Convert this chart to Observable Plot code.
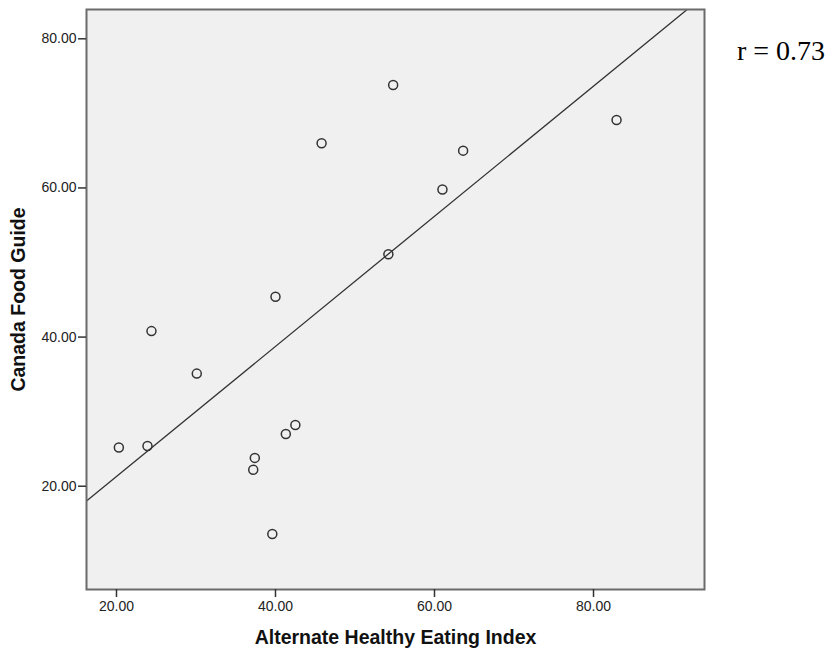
<!DOCTYPE html>
<html>
<head>
<meta charset="utf-8">
<script src="https://cdn.jsdelivr.net/npm/d3@7"></script>
<script src="https://cdn.jsdelivr.net/npm/@observablehq/plot@0.6"></script>
<style>
  html, body { margin: 0; padding: 0; background: #fff; }
  #chart { width: 835px; height: 649px; }
  svg { font-family: "Liberation Sans", Arial, sans-serif; }
</style>
</head>
<body>
<div id="chart"></div>
<script>
// Data
const aheiScores = [20.3, 23.9, 24.4, 30.1, 37.4, 37.2, 39.6, 40.0, 41.3, 42.5, 45.8, 54.8, 54.2, 61.0, 63.6, 82.9];
const cfgScores  = [25.2, 25.4, 40.8, 35.1, 23.8, 22.2, 13.6, 45.4, 27.0, 28.2, 66.0, 73.8, 51.1, 59.8, 65.0, 69.1];
const xTicks = [20, 40, 60, 80];
const yTicks = [20, 40, 60, 80];
const xTitle = "Alternate Healthy Eating Index";
const yTitle = "Canada Food Guide";
const rLabel = "r = 0.73";

const xDomain = [16.23, 93.96];
const yDomain = [6.15, 83.93];

const points = aheiScores.map((x, i) => ({x, y: cfgScores[i]}));

// Ordinary least squares fit line, extended across the frame
const mx = d3.mean(aheiScores), my = d3.mean(cfgScores);
const sxy = d3.sum(points, d => (d.x - mx) * (d.y - my));
const sxx = d3.sum(points, d => (d.x - mx) ** 2);
const slope = sxy / sxx;
const intercept = my - slope * mx;
const fitLine = xDomain.map(x => ({x, y: intercept + slope * x}));

const fmt = d3.format(".2f");

const chart = Plot.plot({
  width: 835,
  height: 649,
  marginLeft: 86,
  marginRight: 131,
  marginTop: 9,
  marginBottom: 60,
  style: {fontFamily: "'Liberation Sans', Arial, sans-serif", background: "#ffffff", color: "#222"},
  x: {domain: xDomain},
  y: {domain: yDomain},
  marks: [
    Plot.frame({fill: "#f0f0f0", stroke: "none"}),
    Plot.line(fitLine, {x: "x", y: "y", stroke: "#333", strokeWidth: 1.3, clip: true}),
    Plot.dot(points, {x: "x", y: "y", r: 4.5, stroke: "#333", strokeWidth: 1.5, fill: "none"}),
    Plot.frame({stroke: "#6b6b6b", strokeWidth: 2}),
    Plot.axisX(xTicks, {tickSize: 8, tickPadding: 4, tickFormat: fmt, fontSize: 14, stroke: "#333", strokeWidth: 1.5, fill: "#222", label: null}),
    Plot.axisY(yTicks, {tickSize: 8, tickPadding: 2, tickFormat: fmt, fontSize: 14, stroke: "#333", strokeWidth: 1.5, fill: "#222", label: null}),
    Plot.text([xTitle], {frameAnchor: "bottom", dy: 48, lineAnchor: "middle", textAnchor: "middle", text: d => d, fontSize: 19.5, fontWeight: "bold", fill: "#111"}),
    Plot.text([yTitle], {frameAnchor: "left", dx: -67.5, rotate: -90, lineAnchor: "middle", textAnchor: "middle", text: d => d, fontSize: 19.5, fontWeight: "bold", fill: "#111"}),
    Plot.text([rLabel], {frameAnchor: "top-right", dx: 76.5, dy: 42, lineAnchor: "middle", textAnchor: "middle", text: d => d, fontSize: 28, fontFamily: "'Liberation Serif', 'Times New Roman', serif", fill: "#000", style: {letterSpacing: "0.6px"}})
  ]
});
document.getElementById("chart").appendChild(chart);
</script>
</body>
</html>
